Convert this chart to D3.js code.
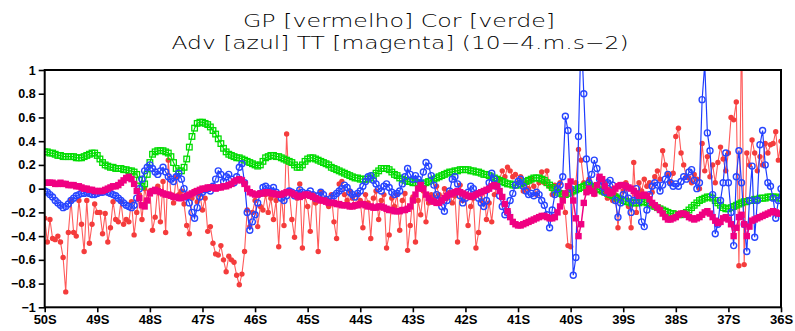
<!DOCTYPE html>
<html><head><meta charset="utf-8">
<script src="https://cdn.jsdelivr.net/npm/d3@7"></script>
<style>html,body{margin:0;padding:0;background:#fff;}svg{display:block;}</style>
</head><body>
<svg id="chart" width="795" height="331"></svg>
<script>
// Sampling grid: latitude (degrees South), from 50S to 36S
const latStart = 50, latStep = 0.05;

const xTickLats = [50,49,48,47,46,45,44,43,42,41,40,39,38,37,36];
const xTickLabels = ["50S","49S","48S","47S","46S","45S","44S","43S","42S","41S","40S","39S","38S","37S","36S"];
const yTickValues = [1,0.8,0.6,0.4,0.2,0,-0.2,-0.4,-0.6,-0.8,-1];
const yTickLabels = ["1","0.8","0.6","0.4","0.2","0","\u22120.2","\u22120.4","\u22120.6","\u22120.8","\u22121"];
const titleLines = ["GP [vermelho] Cor [verde]", "Adv [azul] TT [magenta] (10\u22124.m.s\u22122)"];

// GP [vermelho]
const gp = [-0.25,-0.45,-0.26,-0.42,-0.43,-0.40,-0.45,-0.58,-0.87,-0.37,
-0.10,-0.37,-0.40,-0.10,-0.30,-0.53,-0.10,-0.46,-0.30,-0.13,
-0.20,-0.20,-0.38,-0.21,-0.45,-0.33,-0.11,-0.26,-0.28,-0.11,
-0.30,-0.26,-0.28,-0.11,-0.39,-0.20,-0.05,-0.26,0.00,-0.10,
-0.02,-0.35,-0.24,0.02,-0.28,0.06,-0.37,0.24,-0.05,-0.12,
0.10,-0.05,-0.02,-0.13,-0.31,-0.38,-0.08,-0.02,-0.11,-0.05,
-0.18,-0.08,-0.36,-0.32,-0.46,-0.55,-0.56,-0.48,-0.60,-0.70,
-0.57,-0.60,-0.62,-0.73,-0.81,-0.72,-0.53,-0.18,-0.32,-0.20,
-0.10,-0.32,-0.15,-0.18,-0.05,-0.20,-0.08,-0.26,-0.10,-0.49,
-0.05,-0.31,0.46,-0.02,-0.26,-0.41,-0.08,0.04,-0.50,-0.06,
-0.15,-0.36,-0.05,-0.12,-0.53,-0.03,-0.10,-0.08,-0.15,-0.05,
-0.28,-0.42,0.04,0.06,-0.05,-0.10,-0.02,-0.08,-0.15,-0.05,
-0.10,-0.33,-0.05,-0.12,-0.42,-0.08,-0.02,-0.26,-0.10,-0.05,
-0.50,-0.39,-0.08,-0.15,-0.05,-0.35,-0.10,-0.04,-0.52,-0.31,
-0.07,-0.45,-0.10,-0.22,-0.02,-0.28,-0.12,-0.05,-0.07,0.02,
-0.05,-0.10,0.00,-0.08,-0.03,-0.12,-0.06,-0.45,0.03,-0.10,
-0.05,-0.31,-0.15,-0.08,-0.50,-0.37,-0.10,-0.02,-0.26,-0.12,
-0.28,-0.05,0.02,0.08,0.15,0.10,0.18,0.15,0.10,0.12,
0.05,0.10,-0.02,0.05,0.00,0.08,0.02,-0.05,0.05,0.14,
0.05,0.15,0.02,-0.05,0.03,-0.02,0.05,-0.10,-0.20,-0.48,
-0.49,-0.10,0.05,0.33,0.24,0.05,-0.02,0.08,0.03,-0.05,
0.02,0.10,-0.03,0.05,-0.08,0.00,-0.10,-0.05,-0.33,-0.08,
-0.02,0.05,-0.15,-0.33,0.22,-0.20,0.05,-0.02,0.08,0.02,
0.05,-0.03,0.10,0.15,0.08,0.32,0.20,0.12,0.05,0.13,
0.44,0.51,0.30,0.20,0.10,0.09,0.05,0.12,0.08,0.00,
0.38,0.15,0.27,0.10,0.20,0.05,0.22,0.35,0.25,0.15,
0.30,0.60,0.58,0.73,-0.65,1.40,-0.64,0.30,0.20,0.41,
0.30,0.15,0.27,0.20,0.38,0.30,0.37,0.38,0.48,0.24,0.40];

// Cor [verde]
const cor = [0.31,0.31,0.30,0.30,0.29,0.28,0.28,0.27,0.27,0.27,
0.27,0.27,0.26,0.26,0.26,0.27,0.28,0.29,0.30,0.30,
0.28,0.25,0.22,0.20,0.19,0.18,0.18,0.17,0.17,0.17,
0.16,0.16,0.15,0.15,0.14,0.12,0.07,0.02,0.04,0.12,
0.22,0.29,0.31,0.32,0.32,0.32,0.31,0.30,0.27,0.22,
0.17,0.15,0.15,0.18,0.25,0.35,0.44,0.51,0.55,0.56,
0.56,0.55,0.54,0.52,0.49,0.46,0.42,0.38,0.34,0.31,
0.29,0.28,0.27,0.26,0.26,0.25,0.24,0.23,0.22,0.21,
0.20,0.19,0.20,0.23,0.26,0.27,0.28,0.28,0.27,0.27,
0.26,0.25,0.24,0.23,0.22,0.20,0.18,0.18,0.20,0.23,
0.25,0.26,0.26,0.25,0.24,0.23,0.22,0.21,0.20,0.18,
0.17,0.16,0.15,0.14,0.13,0.12,0.11,0.10,0.09,0.09,
0.08,0.08,0.08,0.08,0.09,0.11,0.13,0.15,0.17,0.17,
0.17,0.16,0.14,0.12,0.11,0.09,0.08,0.07,0.06,0.06,
0.05,0.05,0.05,0.04,0.04,0.05,0.06,0.07,0.08,0.09,
0.10,0.11,0.12,0.13,0.14,0.14,0.15,0.15,0.16,0.16,
0.16,0.16,0.15,0.15,0.14,0.14,0.13,0.12,0.12,0.11,
0.10,0.09,0.08,0.07,0.06,0.05,0.04,0.04,0.03,0.03,
0.03,0.04,0.05,0.06,0.07,0.08,0.09,0.09,0.09,0.08,
0.07,0.05,0.03,0.01,-0.01,-0.03,-0.04,-0.05,-0.05,-0.04,
-0.03,-0.02,-0.01,0.00,0.01,0.02,0.03,0.03,0.02,0.01,
0.00,-0.01,-0.02,-0.03,-0.04,-0.05,-0.06,-0.07,-0.08,-0.09,
-0.10,-0.11,-0.11,-0.12,-0.12,-0.12,-0.12,-0.11,-0.11,-0.12,
-0.13,-0.14,-0.15,-0.16,-0.17,-0.18,-0.19,-0.20,-0.21,-0.21,
-0.22,-0.22,-0.22,-0.21,-0.20,-0.18,-0.16,-0.14,-0.12,-0.10,
-0.09,-0.08,-0.07,-0.07,-0.08,-0.10,-0.12,-0.14,-0.16,-0.17,
-0.17,-0.16,-0.15,-0.14,-0.13,-0.12,-0.11,-0.11,-0.10,-0.10,
-0.09,-0.09,-0.08,-0.08,-0.08,-0.07,-0.07,-0.07,-0.07,-0.08,-0.08];

// Adv [azul]
const adv = [-0.02,-0.03,-0.05,-0.07,-0.10,-0.12,-0.14,-0.16,-0.15,-0.13,
-0.10,-0.08,-0.06,-0.05,-0.04,-0.04,-0.03,-0.04,-0.05,-0.05,
-0.04,-0.03,-0.03,-0.02,-0.03,-0.04,-0.05,-0.06,-0.08,-0.10,
-0.12,-0.14,-0.15,-0.16,-0.14,-0.08,0.00,0.08,0.15,0.18,
0.20,0.17,0.14,0.12,0.15,0.18,0.14,0.10,0.08,0.06,
0.10,0.13,0.08,0.00,-0.07,-0.12,-0.20,-0.25,-0.16,-0.07,
-0.03,-0.01,0.00,-0.02,0.02,0.08,0.15,0.12,0.06,0.10,
0.12,0.08,0.05,0.10,0.18,0.21,0.05,-0.20,-0.35,-0.28,
-0.22,-0.12,-0.04,0.01,0.02,0.00,-0.02,0.01,-0.03,-0.05,
-0.08,-0.10,-0.06,-0.02,-0.03,-0.06,-0.04,-0.01,-0.03,-0.05,
-0.04,-0.02,-0.05,-0.08,-0.06,-0.03,-0.05,-0.09,-0.11,-0.08,
-0.06,-0.04,-0.02,0.00,0.03,0.01,-0.03,-0.05,-0.07,-0.04,
-0.02,0.02,0.06,0.10,0.11,0.07,0.04,0.00,-0.02,0.02,
0.04,0.01,-0.03,-0.05,-0.04,-0.02,0.04,0.10,0.17,0.12,
0.08,0.11,0.08,0.05,0.14,0.22,0.19,0.11,0.03,-0.05,
-0.10,-0.15,-0.19,-0.10,-0.02,0.08,0.10,0.04,-0.06,-0.12,
-0.08,-0.03,0.02,0.00,-0.04,-0.08,-0.12,-0.15,-0.10,0.05,
0.13,0.08,0.02,-0.06,-0.15,-0.22,-0.20,-0.10,-0.04,0.03,
0.06,0.08,0.02,-0.02,-0.05,-0.04,-0.06,-0.03,-0.05,-0.10,
-0.14,-0.22,-0.33,-0.18,-0.05,0.00,0.03,0.10,0.61,0.49,
0.00,-0.73,-0.58,0.44,1.35,0.80,0.25,0.05,0.12,0.24,
0.17,0.08,0.02,-0.03,0.05,0.07,0.03,-0.10,-0.24,-0.12,
-0.05,0.02,-0.08,-0.20,-0.10,0.00,-0.10,-0.28,-0.32,-0.18,
-0.05,0.02,0.05,0.03,-0.02,0.03,0.08,0.12,0.05,0.02,
0.04,0.02,0.06,0.10,0.08,0.14,0.16,0.07,0.00,0.05,
0.75,1.05,0.47,0.32,-0.05,-0.38,-0.30,-0.10,0.05,0.30,
0.05,-0.20,-0.48,0.10,0.32,0.05,-0.30,-0.53,-0.10,0.19,
-0.41,-0.10,0.37,0.49,0.20,0.05,0.02,-0.08,-0.25,-0.10,0.00];

// TT [magenta]
const tt = [0.05,0.05,0.05,0.05,0.04,0.04,0.05,0.04,0.04,0.03,
0.03,0.03,0.02,0.02,0.01,0.00,0.00,-0.01,-0.01,-0.02,
-0.02,-0.02,-0.02,-0.01,0.00,0.01,0.02,0.02,0.03,0.05,
0.07,0.09,0.10,0.08,0.04,-0.02,-0.08,-0.14,-0.15,-0.10,
-0.04,-0.02,-0.01,-0.02,-0.03,-0.04,-0.05,-0.05,-0.06,-0.07,
-0.07,-0.08,-0.08,-0.07,-0.06,-0.05,-0.04,-0.03,-0.02,-0.01,
0.00,0.00,0.01,0.01,0.01,0.00,0.01,0.01,0.02,0.02,
0.03,0.04,0.06,0.07,0.08,0.07,0.04,0.00,-0.03,-0.04,
-0.05,-0.05,-0.04,-0.04,-0.03,-0.03,-0.04,-0.04,-0.05,-0.05,
-0.05,-0.04,-0.03,-0.03,-0.04,-0.05,-0.06,-0.07,-0.06,-0.05,
-0.05,-0.06,-0.07,-0.08,-0.09,-0.10,-0.10,-0.11,-0.12,-0.12,
-0.12,-0.13,-0.13,-0.14,-0.14,-0.14,-0.15,-0.15,-0.14,-0.14,
-0.13,-0.13,-0.14,-0.15,-0.15,-0.16,-0.16,-0.15,-0.15,-0.16,
-0.17,-0.18,-0.18,-0.19,-0.19,-0.19,-0.18,-0.18,-0.17,-0.15,
-0.10,-0.05,0.00,0.03,0.00,-0.05,-0.08,-0.10,-0.11,-0.12,
-0.12,-0.10,-0.08,-0.06,-0.05,-0.04,-0.03,-0.02,-0.03,-0.04,
-0.05,-0.06,-0.07,-0.06,-0.05,-0.04,-0.03,-0.02,-0.01,0.00,
0.02,0.03,0.02,-0.02,-0.07,-0.13,-0.19,-0.24,-0.28,-0.30,
-0.31,-0.31,-0.30,-0.29,-0.28,-0.27,-0.26,-0.25,-0.24,-0.23,
-0.23,-0.24,-0.25,-0.25,-0.24,-0.20,-0.15,-0.10,-0.04,0.02,
0.06,-0.10,-0.25,-0.40,-0.30,-0.12,-0.03,0.00,-0.02,-0.04,
0.03,0.10,0.08,0.02,-0.02,-0.04,-0.03,0.00,0.02,0.03,
0.03,0.02,0.01,0.00,-0.02,-0.04,-0.06,-0.06,-0.05,-0.06,
-0.09,-0.12,-0.14,-0.16,-0.18,-0.21,-0.24,-0.26,-0.26,-0.25,
-0.24,-0.22,-0.21,-0.21,-0.22,-0.24,-0.25,-0.26,-0.25,-0.24,
-0.22,-0.20,-0.19,-0.21,-0.24,-0.27,-0.29,-0.28,-0.25,-0.24,
-0.26,-0.30,-0.40,-0.33,-0.24,-0.22,-0.30,-0.40,-0.32,-0.27,
-0.26,-0.25,-0.24,-0.23,-0.22,-0.21,-0.20,-0.19,-0.20,-0.21,-0.21];

const lats = gp.map((_, i) => latStart - i * latStep);

const svg = d3.select("#chart");
const L = 44.7, R = 781, T = 70, B = 307.3;
const x = d3.scaleLinear().domain([50, 36]).range([L, R]);
const y = d3.scaleLinear().domain([-1, 1]).range([B, T]);

// Title (two lines)
const titleAttrs = sel => sel.attr("text-anchor", "middle")
  .attr("font-family", "'DejaVu Sans', sans-serif").attr("font-weight", 200)
  .attr("font-size", 18.4).attr("fill", "#000")
  .attr("lengthAdjust", "spacingAndGlyphs");
svg.append("text").call(titleAttrs).attr("x", 399).attr("y", 27)
  .attr("textLength", 312).text(titleLines[0]);
svg.append("text").call(titleAttrs).attr("x", 400).attr("y", 48.6)
  .attr("textLength", 457).text(titleLines[1]);

// Clip
svg.append("defs").append("clipPath").attr("id", "plotclip")
  .append("rect").attr("x", L).attr("y", T).attr("width", R - L).attr("height", B - T);

const plot = svg.append("g").attr("clip-path", "url(#plotclip)");
const pts = vals => vals.map((v, i) => [lats[i], v]);
const line = d3.line().x(d => x(d[0])).y(d => y(d[1]));

// GP red: line + filled circles
plot.append("path").datum(pts(gp)).attr("d", line)
  .attr("fill", "none").attr("stroke", "#ff5a5a").attr("stroke-width", 1.1);
plot.append("g").selectAll("circle").data(pts(gp)).join("circle")
  .attr("cx", d => x(d[0])).attr("cy", d => y(d[1])).attr("r", 2.7)
  .attr("fill", "#f43c3c");

// Cor green: line + open squares
plot.append("path").datum(pts(cor)).attr("d", line)
  .attr("fill", "none").attr("stroke", "#00dc00").attr("stroke-width", 1.2);
plot.append("g").selectAll("rect").data(pts(cor)).join("rect")
  .attr("x", d => x(d[0]) - 2.8).attr("y", d => y(d[1]) - 2.8)
  .attr("width", 5.6).attr("height", 5.6)
  .attr("fill", "none").attr("stroke", "#00dc00").attr("stroke-width", 1.3);

// Adv blue: line + open circles
plot.append("path").datum(pts(adv)).attr("d", line)
  .attr("fill", "none").attr("stroke", "#1e3cff").attr("stroke-width", 1.2);
plot.append("g").selectAll("circle").data(pts(adv)).join("circle")
  .attr("cx", d => x(d[0])).attr("cy", d => y(d[1])).attr("r", 3)
  .attr("fill", "none").attr("stroke", "#2846ff").attr("stroke-width", 1.4);

// TT magenta: line + filled squares
plot.append("path").datum(pts(tt)).attr("d", line)
  .attr("fill", "none").attr("stroke", "#f00082").attr("stroke-width", 1.5);
plot.append("g").selectAll("rect").data(pts(tt)).join("rect")
  .attr("x", d => x(d[0]) - 3.2).attr("y", d => y(d[1]) - 3.2)
  .attr("width", 6.4).attr("height", 6.4).attr("fill", "#f00082");

// Frame
svg.append("rect").attr("x", L).attr("y", T).attr("width", R - L).attr("height", B - T)
  .attr("fill", "none").attr("stroke", "#000").attr("stroke-width", 2);

// Axes
const xAxis = d3.axisBottom(x).tickValues(xTickLats)
  .tickFormat((d, i) => xTickLabels[i]).tickSize(5).tickPadding(2);
const gx = svg.append("g").attr("transform", `translate(0,${B})`).call(xAxis);
gx.select(".domain").remove();
gx.selectAll(".tick line").attr("stroke", "#000").attr("stroke-width", 1.6);
gx.selectAll(".tick text").attr("font-family", "'Liberation Sans', Arial, sans-serif")
  .attr("font-weight", "bold").attr("font-size", 13).attr("fill", "#000");

const yAxis = d3.axisLeft(y).tickValues(yTickValues)
  .tickFormat((d, i) => yTickLabels[i]).tickSize(6).tickPadding(3);
const gy = svg.append("g").attr("transform", `translate(${L},0)`).call(yAxis);
gy.select(".domain").remove();
gy.selectAll(".tick line").attr("stroke", "#000").attr("stroke-width", 1.6);
gy.selectAll(".tick text").attr("font-family", "'Liberation Sans', Arial, sans-serif")
  .attr("font-weight", "bold").attr("font-size", 12.5).attr("fill", "#000");
</script>
</body></html>
